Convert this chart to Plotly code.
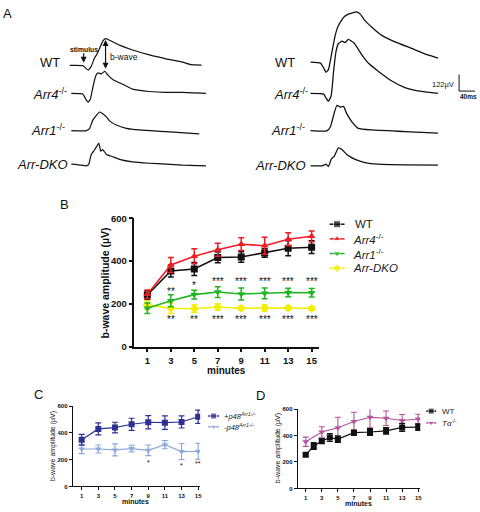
import plotly.graph_objects as go

W, H = 480, 512
FONT = "Arial, Liberation Sans, sans-serif"


def px(x):
    return x / W


def py(y):
    return 1 - y / H


# ---------------- Panel A : ERG traces (time in ms, amplitude in µV) ----------------
A_labels = ["WT", "<i>Arr4</i><sup>-/-</sup>", "<i>Arr1</i><sup>-/-</sup>", "<i>Arr-DKO</i>"]

left_wt_t = [-35, -2, 11, 19, 27, 33, 40, 48, 55, 65, 90, 123, 165, 207, 248, 269, 296]
left_wt_v = [0, -2, -34, -7, 53, 82, 125, 178, 197, 185, 149, 113, 77, 48, 24, 5, 2]
left_arr4_t = [-31, -2, 5, 11, 17, 23, 30, 36, 44, 53, 61, 73, 98, 123, 165, 207, 248, 307]
left_arr4_v = [0, -5, -41, -65, -41, 43, 127, 151, 144, 163, 134, 103, 67, 31, 14, 7, 7, 0]
left_arr1_t = [-31, 7, 15, 23, 32, 40, 48, 57, 65, 82, 107, 140, 207, 290]
left_arr1_v = [0, 0, 17, 77, 113, 137, 125, 101, 72, 41, 17, 5, -7, -24]
left_dko_t = [-31, -6, 7, 13, 19, 28, 33, 38, 43, 48, 57, 73, 90, 123, 165, 207, 248, 307]
left_dko_v = [0, -7, -12, 0, 72, 108, 132, 156, 96, 108, 72, 55, 36, 17, 7, 0, -7, -12]

right_wt_t = [-33, -8, 0, 6, 12, 21, 29, 37, 50, 62, 75, 83, 92, 104, 121, 146, 179, 221, 262, 287]
right_wt_v = [0, -7, -43, -74, -55, 77, 197, 269, 329, 353, 365, 370, 353, 305, 257, 197, 149, 101, 53, 29]
right_arr4_t = [-33, 0, 6, 12, 19, 25, 31, 37, 46, 54, 62, 75, 83, 96, 112, 137, 171, 204, 246, 287]
right_arr4_v = [0, -5, -34, -58, -17, 163, 307, 367, 384, 374, 398, 374, 343, 283, 223, 163, 91, 43, 14, 0]
right_arr1_t = [-33, 8, 17, 25, 33, 42, 50, 58, 71, 87, 121, 204, 287]
right_arr1_v = [0, -2, 29, 113, 185, 173, 178, 125, 65, 17, 5, -7, -19]
right_dko_t = [-33, -4, 6, 12, 19, 27, 37, 46, 58, 79, 104, 137, 204, 287]
right_dko_v = [0, 0, 12, -5, 48, 72, 132, 120, 84, 48, 24, 12, 7, 5]

scale_ms = 40
scale_uv = 122

# ---------------- Panel B ----------------
minutes_B = [1, 3, 5, 7, 9, 11, 13, 15]
wt_B = [241, 354, 363, 417, 419, 438, 460, 465]
wt_B_err = [20, 28, 30, 25, 25, 20, 35, 30]
arr4_B = [245, 382, 423, 453, 479, 472, 502, 516]
arr4_B_err = [20, 35, 35, 30, 30, 40, 30, 25]
arr1_B = [179, 214, 243, 255, 246, 249, 253, 252]
arr1_B_err = [25, 28, 20, 25, 28, 25, 20, 20]
dko_B = [195, 179, 177, 185, 179, 180, 180, 178]
dko_B_err = [20, 25, 18, 15, 8, 15, 8, 8]
stars_up_x = [3, 5, 7, 9, 11, 13, 15]
stars_up_y = [258, 285, 303, 303, 303, 303, 303]
stars_up = ["**", "*", "***", "***", "***", "***", "***"]
stars_dn_x = [3, 5, 7, 9, 11, 13, 15]
stars_dn_y = [125, 125, 125, 125, 125, 125, 125]
stars_dn = ["**", "**", "***", "***", "***", "***", "***"]

# ---------------- Panel C ----------------
minutes_C = [1, 3, 5, 7, 9, 11, 13, 15]
plus_C = [349, 430, 440, 465, 480, 477, 482, 521]
plus_C_err = [40, 45, 40, 45, 50, 50, 45, 50]
minus_C = [280, 280, 273, 283, 270, 312, 261, 263]
minus_C_err = [35, 30, 45, 25, 40, 30, 60, 60]
stars_C_x = [9, 13, 15]
stars_C_y = [182, 158, 170]
stars_C = ["*", "*", "**"]

# ---------------- Panel D ----------------
minutes_D_wt = [1, 2, 3, 4, 5, 7, 9, 11, 13, 15]
wt_D = [254, 321, 358, 385, 373, 422, 427, 435, 462, 464]
wt_D_err = [10, 25, 20, 30, 25, 20, 25, 25, 30, 25]
minutes_D_ta = [1, 3, 5, 7, 9, 11, 13, 15]
ta_D = [353, 427, 459, 506, 538, 531, 514, 526]
ta_D_err = [35, 40, 80, 70, 80, 55, 45, 35]

BLACK = "#111111"
RED = "#ee1c24"
GREEN = "#22b422"
YELLOW = "#f2ef00"
NAVY = "#2e3192"
LIGHT = "#8eaadb"
MAGENTA = "#b4529e"

fig = go.Figure()

# ---- Panel A traces
left_off = [-437, -643, -917, -1164]
right_off = [-413, -643, -917, -1176]
left_sets = [(left_wt_t, left_wt_v), (left_arr4_t, left_arr4_v), (left_arr1_t, left_arr1_v), (left_dko_t, left_dko_v)]
right_sets = [(right_wt_t, right_wt_v), (right_arr4_t, right_arr4_v), (right_arr1_t, right_arr1_v), (right_dko_t, right_dko_v)]
for (t, v), off in zip(left_sets, left_off):
    fig.add_trace(go.Scatter(x=t, y=[a + off for a in v], mode="lines", xaxis="x4", yaxis="y4",
                             line=dict(color=BLACK, width=1.2, shape="spline", smoothing=0.4), showlegend=False))
for (t, v), off in zip(right_sets, right_off):
    fig.add_trace(go.Scatter(x=t, y=[a + off for a in v], mode="lines", xaxis="x5", yaxis="y5",
                             line=dict(color=BLACK, width=1.3, shape="spline", smoothing=0.4), showlegend=False))

# ---- Panel B traces
def b_trace(y, err, color, symbol, size):
    return go.Scatter(x=minutes_B, y=y, mode="lines+markers", xaxis="x", yaxis="y",
                      line=dict(color=color, width=1.6),
                      marker=dict(color=color, symbol=symbol, size=size),
                      error_y=dict(type="data", array=err, color=color, thickness=1.5, width=3),
                      showlegend=False)

fig.add_trace(b_trace(dko_B, dko_B_err, YELLOW, "diamond", 7))
fig.add_trace(b_trace(arr1_B, arr1_B_err, GREEN, "triangle-down", 7))
fig.add_trace(b_trace(wt_B, wt_B_err, BLACK, "square", 7))
fig.add_trace(b_trace(arr4_B, arr4_B_err, RED, "triangle-up", 7))

# ---- Panel C traces
fig.add_trace(go.Scatter(x=minutes_C, y=minus_C, mode="lines+markers", xaxis="x2", yaxis="y2",
                         line=dict(color=LIGHT, width=1.2), marker=dict(color=LIGHT, symbol="triangle-down", size=6),
                         error_y=dict(type="data", array=minus_C_err, color=LIGHT, thickness=1.2, width=3),
                         showlegend=False))
fig.add_trace(go.Scatter(x=minutes_C, y=plus_C, mode="lines+markers", xaxis="x2", yaxis="y2",
                         line=dict(color=NAVY, width=1.2), marker=dict(color=NAVY, symbol="square", size=6),
                         error_y=dict(type="data", array=plus_C_err, color=NAVY, thickness=1.2, width=3),
                         showlegend=False))

# ---- Panel D traces
fig.add_trace(go.Scatter(x=minutes_D_ta, y=ta_D, mode="lines+markers", xaxis="x3", yaxis="y3",
                         line=dict(color=MAGENTA, width=1.1), marker=dict(color=MAGENTA, symbol="triangle-down", size=6),
                         error_y=dict(type="data", array=ta_D_err, color=MAGENTA, thickness=1.1, width=3),
                         showlegend=False))
fig.add_trace(go.Scatter(x=minutes_D_wt, y=wt_D, mode="lines+markers", xaxis="x3", yaxis="y3",
                         line=dict(color=BLACK, width=1.2), marker=dict(color=BLACK, symbol="square", size=6),
                         error_y=dict(type="data", array=wt_D_err, color=BLACK, thickness=1.2, width=3),
                         showlegend=False))

# ---- Manual legends (glyphs on a pixel overlay axis)
legend_items = [
    # (x0, x1, y, color, symbol, size, text, text_x, font size)
    (331, 346, 223, BLACK, "square", 7, "WT", 354, 11.5),
    (331, 346, 238, RED, "triangle-up", 7, "<i>Arr4</i><sup>-/-</sup>", 352, 11.5),
    (331, 346, 253, GREEN, "triangle-down", 7, "<i>Arr1</i><sup>-/-</sup>", 352, 11.5),
    (331, 346, 268, YELLOW, "diamond", 7, "<i>Arr-DKO</i>", 352, 11.5),
    (209, 220, 419, NAVY, "square", 6, "<i>+p48</i><sup><i>Arr1-/-</i></sup>", 223, 7.5),
    (209, 220, 430, LIGHT, "triangle-down", 6, "<i>-p48</i><sup><i>Arr1-/-</i></sup>", 223, 7.5),
    (428, 438, 414, BLACK, "square", 6, "WT", 442, 8),
    (428, 438, 426, MAGENTA, "triangle-down", 6, "<i>T\u03b1</i><sup>-/-</sup>", 442, 8),
]
annotations = []
for x0, x1, yy, col, sym, sz, txt, tx, fs in legend_items:
    fig.add_trace(go.Scatter(x=[x0, (x0 + x1) / 2, x1], y=[yy, yy, yy], mode="lines+markers",
                             xaxis="x6", yaxis="y6", line=dict(color=col, width=1.5),
                             marker=dict(color=col, symbol=sym, size=[0, sz, 0]), showlegend=False,
                             hoverinfo="skip"))
    annotations.append(dict(x=px(tx), y=py(yy), xref="paper", yref="paper", text=txt, showarrow=False,
                            xanchor="left", yanchor="middle", font=dict(family=FONT, size=fs, color="#222")))


def ann(x, y, text, size, bold=False, anchor="center", angle=0, color="#111"):
    annotations.append(dict(x=px(x), y=py(y), xref="paper", yref="paper", text=text, showarrow=False,
                            xanchor=anchor, yanchor="middle", textangle=angle,
                            font=dict(family=FONT, size=size, color=color, weight="bold" if bold else "normal")))


# Panel letters
ann(8, 8, "A", 13)
ann(65, 203, "B", 13)
ann(39, 397, "C", 13)
ann(262, 398, "D", 13)

# Panel A labels
left_lab = [(50, 58), (50, 90), (48, 127), (43, 162)]
right_lab = [(286, 58), (292, 90), (289, 127), (282, 163)]
for (x, y), t in zip(left_lab, A_labels):
    ann(x, y, t, 13)
for (x, y), t in zip(right_lab, A_labels):
    ann(x, y, t, 13)

ann(84, 44, "stimulus", 6.8, bold=True)
annotations.append(dict(x=px(84), y=py(58), xref="paper", yref="paper", ax=0, ay=-11, text="",
                        showarrow=True, arrowhead=2, arrowsize=1, arrowwidth=1.2, arrowcolor="#111"))
annotations.append(dict(x=px(106), y=py(64), xref="paper", yref="paper", ax=0, ay=-30, text="",
                        showarrow=True, arrowhead=2, startarrowhead=2, arrowside="end+start",
                        arrowsize=1, arrowwidth=1.2, arrowcolor="#111"))
ann(108, 52, "b-wave", 8.5, anchor="left")
ann(458, 80, "122\u00b5V", 7.5, anchor="right")
ann(470, 92, "40ms", 6.5, bold=True)

# Panel B texts
ann(105, 283, "b-wave amplitude (\u00b5V)", 10.5, bold=True, angle=-90)
ann(227, 373, "minutes", 10, bold=True)
for x, y, t in zip(stars_up_x, stars_up_y, stars_up):
    annotations.append(dict(x=x, y=y, xref="x", yref="y", text=t, showarrow=False,
                            font=dict(family=FONT, size=10, color="#111")))
for x, y, t in zip(stars_dn_x, stars_dn_y, stars_dn):
    annotations.append(dict(x=x, y=y, xref="x", yref="y", text=t, showarrow=False,
                            font=dict(family=FONT, size=10, color="#111")))

# Panel C texts
ann(54, 450, "b-wave amplitude (\u00b5V)", 7, angle=-90)
ann(136, 506, "minutes", 7, bold=True)
for x, y, t in zip(stars_C_x, stars_C_y, stars_C):
    annotations.append(dict(x=x, y=y, xref="x2", yref="y2", text=t, showarrow=False,
                            font=dict(family=FONT, size=7, color="#111")))

# Panel D texts
ann(279, 452, "b-wave amplitude (\u00b5V)", 7, angle=-90)
ann(360, 508, "minutes", 7, bold=True)

# Scale bar (in right-panel data units)
sb_t0, sb_v0 = 340, -626
shapes = [
    dict(type="line", xref="x5", yref="y5", x0=sb_t0, y0=sb_v0, x1=sb_t0, y1=sb_v0 + scale_uv,
         line=dict(color="#111", width=1)),
    dict(type="line", xref="x5", yref="y5", x0=sb_t0, y0=sb_v0, x1=sb_t0 + scale_ms, y1=sb_v0,
         line=dict(color="#111", width=1)),
]


def data_axis(domain, rng, tickvals, fs, lw, ticklen, anchor, bold):
    return dict(domain=domain, range=rng, tickvals=tickvals, showgrid=False, zeroline=False,
                showline=True, linecolor="#111", linewidth=lw, ticks="outside", ticklen=ticklen,
                tickwidth=lw, tickcolor="#111", anchor=anchor,
                tickfont=dict(family=FONT, size=fs, color="#111", weight="bold" if bold else "normal"))


hidden = dict(visible=False, showgrid=False, zeroline=False)

fig.update_layout(
    width=W, height=H, margin=dict(l=0, r=0, t=0, b=0),
    paper_bgcolor="white", plot_bgcolor="rgba(0,0,0,0)",
    showlegend=False,
    xaxis=data_axis([px(135), px(320)], [-0.1, 15.6], minutes_B, 9.5, 1.5, 4, "y", True),
    yaxis=data_axis([py(348), py(217)], [0, 600], [0, 200, 400, 600], 9.5, 1.5, 4, "x", True),
    xaxis2=data_axis([px(73), px(201)], [-0.08, 15.24], minutes_C, 6, 1, 3, "y2", True),
    yaxis2=data_axis([py(491), py(409)], [0, 600], [0, 200, 400, 600], 6, 1, 3, "x2", True),
    xaxis3=data_axis([px(299), px(422)], [0.01, 15.25], minutes_C, 6, 1, 3, "y3", True),
    yaxis3=data_axis([py(493), py(412)], [0, 600], [0, 200, 400, 600], 6, 1, 3, "x3", True),
    xaxis4=dict(domain=[px(60), px(210)], range=[-60, 315], anchor="y4", **hidden),
    yaxis4=dict(domain=[py(175), py(0)], range=[-1260, 0], anchor="x4", **hidden),
    xaxis5=dict(domain=[px(300), px(480)], range=[-62.5, 387.5], anchor="y5", **hidden),
    yaxis5=dict(domain=[py(175), py(0)], range=[-1260, 0], anchor="x5", **hidden),
    xaxis6=dict(domain=[0, 1], range=[0, W], anchor="y6", **hidden),
    yaxis6=dict(domain=[0, 1], range=[H, 0], anchor="x6", **hidden),
    annotations=annotations,
    shapes=shapes,
)

fig.write_html("out.html", config={"displayModeBar": False},
               post_script="document.body.style.margin='0';document.body.style.overflow='hidden';")
